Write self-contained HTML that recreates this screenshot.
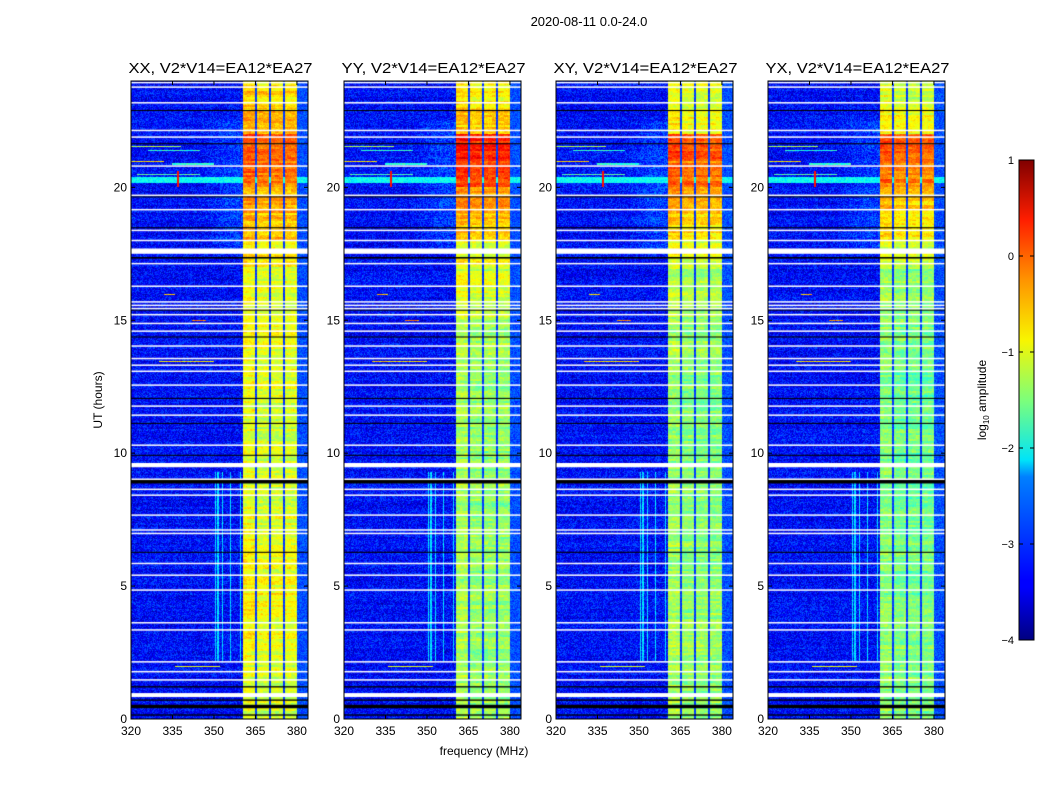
<!DOCTYPE html>
<html><head><meta charset="utf-8">
<style>
body{margin:0;background:#fff;}
#wrap{position:relative;width:1050px;height:800px;overflow:hidden;background:#fff;font-family:"Liberation Sans",sans-serif;}
canvas{position:absolute;}
svg{position:absolute;left:0;top:0;}
text{font-family:"Liberation Sans",sans-serif;fill:#000;}
</style></head>
<body>
<div id="wrap">
<canvas id="c0" width="177" height="638" style="left:131px;top:81px"></canvas>
<canvas id="c1" width="177" height="638" style="left:344px;top:81px"></canvas>
<canvas id="c2" width="177" height="638" style="left:556px;top:81px"></canvas>
<canvas id="c3" width="177" height="638" style="left:768px;top:81px"></canvas>
<svg id="ov" width="1050" height="800">
<defs>
<linearGradient id="jet" x1="0" y1="1" x2="0" y2="0">
<stop offset="0" stop-color="#000080"/><stop offset="0.11" stop-color="#0000ff"/>
<stop offset="0.125" stop-color="#0000ff"/><stop offset="0.34" stop-color="#0080ff"/>
<stop offset="0.375" stop-color="#00e4f8"/><stop offset="0.5" stop-color="#7dff7a"/>
<stop offset="0.625" stop-color="#f8f500"/><stop offset="0.75" stop-color="#ff9400"/>
<stop offset="0.875" stop-color="#ff1e00"/><stop offset="1" stop-color="#800000"/>
</linearGradient>
</defs>
<text x="589" y="26" font-size="13" text-anchor="middle">2020-08-11 0.0-24.0</text>
<text x="484" y="755" font-size="12" text-anchor="middle">frequency (MHz)</text>
<text x="102" y="400" font-size="12" text-anchor="middle" transform="rotate(-90 102 400)">UT (hours)</text>
<rect x="1019" y="160" width="15" height="480" fill="url(#jet)" stroke="#000" stroke-width="1"/>
<text x="986" y="400" font-size="12" text-anchor="middle" transform="rotate(-90 986 400)">log<tspan font-size="8" dy="3">10</tspan><tspan dy="-3"> amplitude</tspan></text>
<g id="cbticks"></g>
<g id="axes"></g>
</svg>
</div>
<script>
// ---- data ----
const panelTitles = ["XX, V2*V14=EA12*EA27","YY, V2*V14=EA12*EA27","XY, V2*V14=EA12*EA27","YX, V2*V14=EA12*EA27"];
const panelLefts = [131,344,556,768];
const xTicks = [320,335,350,365,380];
const yTicks = [0,5,10,15,20];
const cbTicks = [1,0,-1,-2,-3,-4];
const freqMin = 320, freqMax = 384, hourMin = 0, hourMax = 24;
const vMin = -4, vMax = 1;
const bandStart = 360.5, bandEnd = 380;
const bandDividers = [365.2,370.3,375.3];
// hourly band level (log10 amplitude) per panel, hours 0..23
const bandXX = [-1.1,-1.1,-1.05,-0.95,-0.9,-0.95,-1.0,-1.05,-1.1,-1.1,-1.1,-1.1,-1.05,-1.05,-1.0,-1.0,-1.0,-0.85,-0.6,-0.5,-0.25,-0.05,-0.6,-0.75];
const bandYY = [-1.35,-1.35,-1.4,-1.4,-1.4,-1.4,-1.4,-1.4,-1.45,-1.45,-1.4,-1.4,-1.4,-1.35,-1.3,-1.15,-1.1,-0.95,-0.6,-0.4,-0.05,0.2,-0.7,-0.85];
const bandXY = [-1.4,-1.4,-1.4,-1.4,-1.45,-1.45,-1.45,-1.45,-1.5,-1.5,-1.5,-1.5,-1.5,-1.4,-1.4,-1.3,-1.3,-1.1,-0.75,-0.55,-0.25,-0.05,-0.9,-1.05];
const bandYX = [-1.5,-1.5,-1.5,-1.5,-1.55,-1.55,-1.55,-1.55,-1.6,-1.6,-1.6,-1.6,-1.6,-1.5,-1.5,-1.4,-1.4,-1.15,-0.85,-0.65,-0.25,-0.05,-1.0,-1.1];
const bandLevels = [bandXX,bandYY,bandXY,bandYX];
// flagged (white) rows: [hour, thickness in hours]
const whiteRows = [[23.94,.04],[23.77,.04],[23.18,.04],[22.14,.04],[21.89,.04],[20.80,.04],[19.70,.04],[19.16,.04],[18.38,.04],[18.0,.04],[17.6,.2],[17.13,.04],[16.28,.04],[15.69,.04],[15.56,.04],[15.44,.04],[15.21,.04],[14.88,.04],[14.59,.04],[14.03,.04],[13.56,.04],[13.31,.04],[13.08,.04],[12.56,.04],[11.77,.04],[11.43,.04],[10.30,.04],[9.55,.16],[9.02,.04],[8.64,.04],[8.42,.04],[7.67,.04],[7.11,.04],[6.98,.04],[5.85,.04],[5.41,.04],[4.85,.04],[3.62,.04],[3.35,.04],[2.15,.04],[1.78,.04],[1.47,.04],[0.9,.15]];
// black (zero) rows: [hour, thickness]
const blackRows = [[22.89,.04],[21.64,.04],[19.64,.04],[18.48,.04],[17.35,.06],[15.38,.04],[14.37,.04],[12.06,.04],[11.12,.04],[9.92,.04],[8.93,.14],[6.27,.04],[1.21,.05],[0.71,.05],[0.47,.13],[0.15,.05]];
// RFI rows: [hour, fmin, fmax, level]
const rfiRows = [[21.55,320,338,-1.3],[21.4,326,345,-1.9],[21.0,320,332,-0.7],[20.9,335,350,-1.9],[20.5,322,345,-1.7],[17.15,320,340,-1.1],[16.0,332,336,-0.6],[15.0,342,347,-0.3],[14.9,322,348,-1.8],[13.48,330,350,-0.7],[2.0,336,352,-1.0]];
// horizontal broadband feature
const broadRow = [20.15,20.4,-2.1];
const hotFreq = 337, hotHours = [20.0,20.6], hotLevel = 0.3;
// vertical RFI channels in early hours
const vertFreqs = [350.5,351.5,353.0,356.0,359.5];
const vertHours = [2.2,9.3], vertLevel = -2.3;

// ---- axis functions ----
const W = 177, H = 638;
function xOf(f){return (f-freqMin)/(freqMax-freqMin)*W;}
function yOf(h){return H-(h-hourMin)/(hourMax-hourMin)*H;}
function fAt(x){return freqMin+(x+0.5)/W*(freqMax-freqMin);}
function hAt(y){return hourMin+(H-y-0.5)/H*(hourMax-hourMin);}
function jet(v){
  let t=(v-vMin)/(vMax-vMin); t=Math.max(0,Math.min(1,t));
  const c=x=>Math.max(0,Math.min(1,x));
  return [c(1.5-Math.abs(4*t-3))*255,c(1.5-Math.abs(4*t-2))*255,c(1.5-Math.abs(4*t-1))*255];
}
function hash(a,b,c){let h=(a*374761393+b*668265263+c*2147483647)|0;h=(h^(h>>>13))*1274126177;h=h^(h>>>16);return ((h>>>0)%10000)/10000;}

function value(p,h,f,x,y){
  const n=hash(p+1,x,y)-0.5, rn=hash(p+7,0,y>>1)-0.5, pn=hash(p+3,x>>2,y>>1)-0.5;
  let v=-3.35+n*0.8+rn*0.2;
  if(f>=bandStart&&f<bandEnd){
    const lv=bandLevels[p][Math.min(23,Math.floor(h))];
    v=lv+n*0.3+rn*0.4+pn*0.3+(f<365.2?0.1:0);
    for(const d of bandDividers) if(Math.abs(f-d)<0.3) v=-3.1+n*0.3;
  } else if(f>=bandEnd){ v=-3.0+n*0.5; }
  else if(f>345&&h>17.5&&h<22.5) v+=0.25*Math.min(1,(f-345)/10);
  if(f<bandStart&&h>=vertHours[0]&&h<=vertHours[1]) for(const vf of vertFreqs) if(Math.abs(f-vf)<0.25) v=vertLevel+n*0.5;
  if(h>=broadRow[0]&&h<=broadRow[1]) v=Math.max(v,broadRow[2]+n*0.5);
  if(Math.abs(f-hotFreq)<0.5&&h>=hotHours[0]&&h<=hotHours[1]) v=hotLevel;
  for(const r of rfiRows) if(f>=r[1]&&f<=r[2]&&Math.abs(yOf(r[0])-y)<0.6) v=Math.max(v,r[3]+n*0.6);
  return v;
}

for(let p=0;p<4;p++){
  const cv=document.getElementById('c'+p), ctx=cv.getContext('2d');
  const img=ctx.createImageData(W,H);
  for(let y=0;y<H;y++){const h=hAt(y);
    for(let x=0;x<W;x++){const c=jet(value(p,h,fAt(x),x,y));const i=(y*W+x)*4;
      img.data[i]=c[0];img.data[i+1]=c[1];img.data[i+2]=c[2];img.data[i+3]=255;}}
  ctx.putImageData(img,0,0);
  ctx.fillStyle='#000';
  for(const r of blackRows){const hh=Math.max(1,r[1]/24*H);ctx.fillRect(0,yOf(r[0])-hh/2,W,hh);}
  ctx.fillStyle='#fff';
  for(const r of whiteRows){const hh=Math.max(1.5,r[1]/24*H);ctx.fillRect(0,yOf(r[0])-hh/2,W,hh);}
}

// ---- axes ----
const NS='http://www.w3.org/2000/svg';
const axes=document.getElementById('axes');
function mk(tag,attrs,parent){const e=document.createElementNS(NS,tag);for(const k in attrs)e.setAttribute(k,attrs[k]);parent.appendChild(e);return e;}
const top0=81;
for(let p=0;p<4;p++){
  const L=panelLefts[p];
  const g=mk('g',{},axes);
  
  
  const fr=mk('rect',{x:L,y:top0,width:W,height:H,fill:'none',stroke:'#000','stroke-width':1},g);
  
  
  const t=mk('text',{x:L+W/2+1,y:top0-8,'font-size':15,'text-anchor':'middle',textLength:184,lengthAdjust:'spacingAndGlyphs'},g);
  t.textContent=panelTitles[p];
  
  
  for(const f of xTicks){const x=L+xOf(f);
    mk('line',{x1:x,x2:x,y1:top0+H,y2:top0+H-4,stroke:'#000'},g);
    mk('line',{x1:x,x2:x,y1:top0,y2:top0+4,stroke:'#000'},g);
    const tx=mk('text',{x:x,y:top0+H+16,'font-size':12,'text-anchor':'middle'},g);tx.textContent=f;
    
    }
  for(const h of yTicks){const y=top0+yOf(h);
    mk('line',{x1:L,x2:L+4,y1:y,y2:y,stroke:'#000'},g);
    mk('line',{x1:L+W,x2:L+W-4,y1:y,y2:y,stroke:'#000'},g);
    const ty=mk('text',{x:L-4,y:y+4,'font-size':12,'text-anchor':'end'},g);ty.textContent=h;
    
    }
}
const cbg=document.getElementById('cbticks');
for(const v of cbTicks){const y=160+(vMax-v)/(vMax-vMin)*480;
  mk('line',{x1:1019,x2:1023,y1:y,y2:y,stroke:'#000'},cbg);
  mk('line',{x1:1030,x2:1034,y1:y,y2:y,stroke:'#000'},cbg);
  const t=mk('text',{x:1014,y:y+4,'font-size':11,'text-anchor':'end'},cbg);
  t.textContent=v<0?'\u2212'+(-v):String(v);
  
  }
</script>
</body></html>
